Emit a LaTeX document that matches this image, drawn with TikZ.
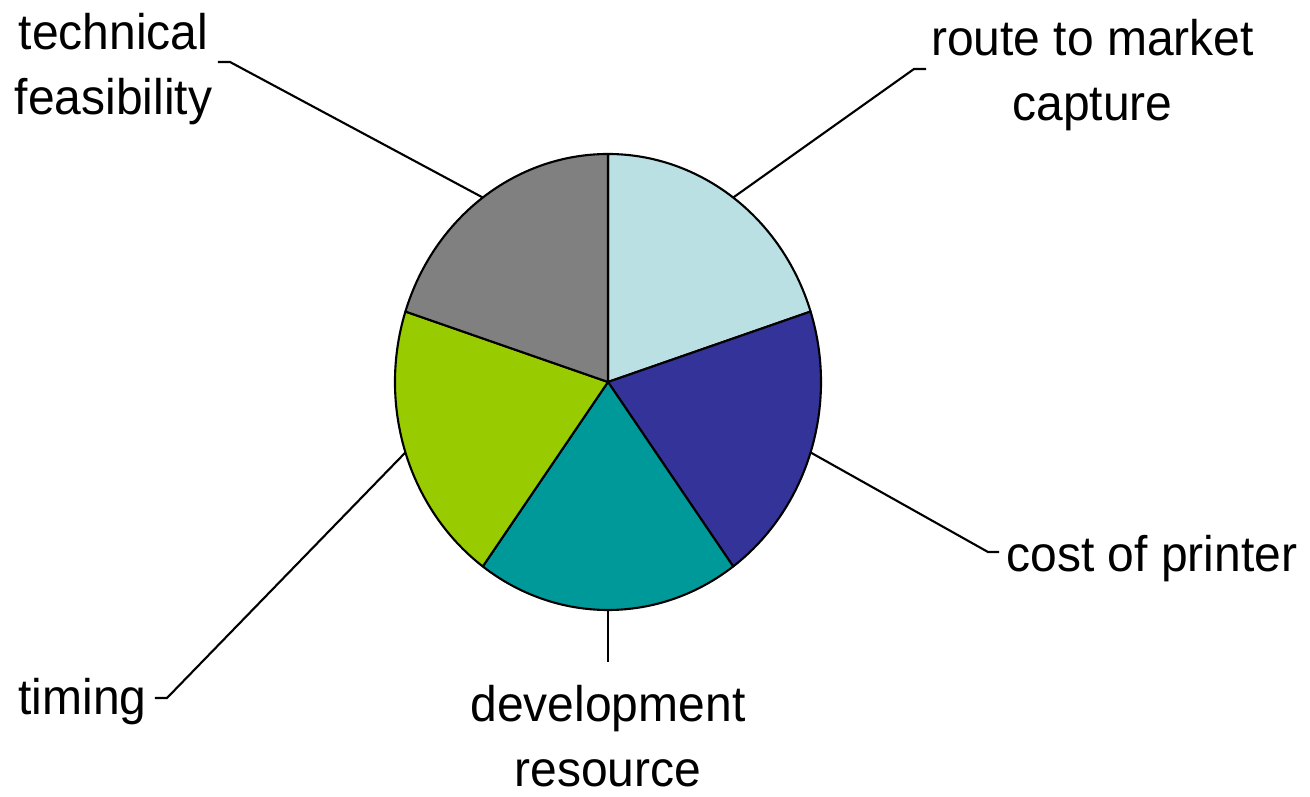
\documentclass[tikz,border=0pt]{standalone}
\usepackage{xcolor}
\usepackage{fontspec}
\setmainfont{Liberation Sans}[FakeStretch=0.96]
\usepackage{tikz}
\usetikzlibrary{positioning}
\definecolor{sliceblue}{HTML}{BBE0E3}
\definecolor{slicenavy}{HTML}{333399}
\definecolor{sliceteal}{HTML}{009999}
\definecolor{slicegreen}{HTML}{99CC00}
\definecolor{slicegrey}{HTML}{808080}
\tikzset{
  slice/.style={draw=black, line width=1.2pt, line join=round},
  leader/.style={draw=black, line width=1.2pt}
}

\begin{document}
\begin{tikzpicture}[
        every node/.style={inner sep=0pt, align=center, font=\fontsize{28.45pt}{37pt}\selectfont}
    ]
        \useasboundingbox (-12.16,-8.30) rectangle (14.04,7.64);

        % Pie slices
        \foreach \col [count=\i] in {sliceblue,slicenavy,sliceteal,slicegreen,slicegrey} {
            \pgfmathsetmacro\sa{162-72*\i}
            \filldraw[slice, fill=\col] (0,0) -- (\sa:4.26cm and 4.56cm)
                arc[start angle=\sa, end angle=\sa-72, x radius=4.26cm, y radius=4.56cm] -- cycle;
        }

        % Points on the rim
        \coordinate (routeedge) at (54:4.26cm and 4.56cm);
        \coordinate (costedge) at (-18:4.26cm and 4.56cm);
        \coordinate (devedge) at (-90:4.26cm and 4.56cm);
        \coordinate (timeedge) at (-162:4.26cm and 4.56cm);
        \coordinate (techedge) at (126:4.26cm and 4.56cm);

        % Labels
        \node[anchor=base] (tech) at (-9.89,5.34) {technical\\feasibility};
        \node[anchor=base] (route) at (9.69,5.22) {route to market\\capture};
        \node[anchor=base west] (cost) at (7.96,-3.80) {cost of printer};
        \node[anchor=base] (dev) at (0,-8.10) {development\\resource};
        \node[anchor=base east] (timing) at (-9.22,-6.66) {timing};

        % Leader bends
        \coordinate (techbend) at (-7.56,6.40);
        \coordinate (techtail) at (-7.80,6.40);
        \coordinate (routebend) at (6.12,6.26);
        \coordinate (routetail) at (6.36,6.26);
        \coordinate (costbend) at (7.60,-3.40);
        \coordinate (costtail) at (7.82,-3.40);
        \coordinate (devtail) at (0,-5.60);
        \coordinate (timebend) at (-8.82,-6.32);
        \coordinate (timetail) at (-9.06,-6.32);

        % Connect labels
        \draw[leader] (techedge) -- (techbend) -- (techtail);
        \draw[leader] (routeedge) -- (routebend) -- (routetail);
        \draw[leader] (costedge) -- (costbend) -- (costtail);
        \draw[leader] (devedge) -- (devtail);
        \draw[leader] (timeedge) -- (timebend) -- (timetail);
    \end{tikzpicture}
\end{document}
